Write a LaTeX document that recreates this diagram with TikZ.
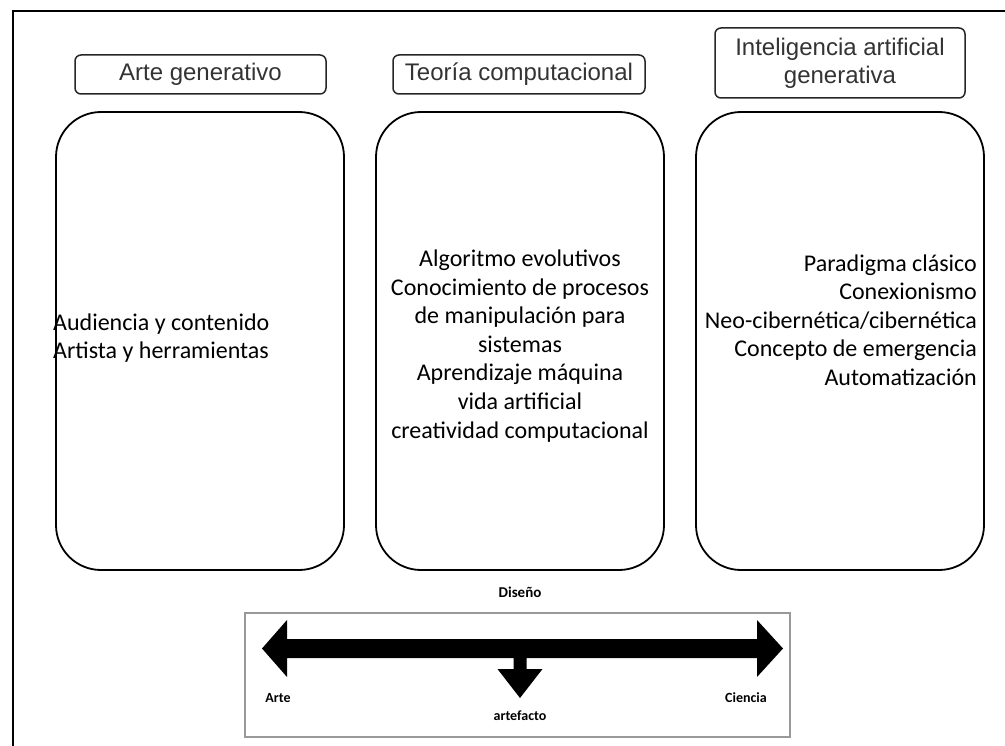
\documentclass[tikz,border=0pt]{standalone}
\usepackage{fontspec}
\setmainfont{Carlito}
\newfontfamily\headfont{Liberation Sans}
\begin{document}
\begin{tikzpicture}[x=1pt,y=-1pt,
  headbox/.style={draw=black!85, line width=1.5pt, rounded corners=6pt,
    font=\headfont\fontsize{24}{28}\selectfont, text=black!80,
    align=center, inner sep=0pt},
  colbox/.style={draw=black, line width=1.8pt, rounded corners=45pt,
    minimum width=288pt, minimum height=458pt, inner sep=0pt},
  bodytext/.style={font=\fontsize{24}{28.6}\selectfont, inner sep=0pt},
  axislabel/.style={font=\bfseries\fontsize{14}{16}\selectfont, inner sep=0pt},
]
\useasboundingbox (0,0) rectangle (1005,746);

% outer frame (left and top edges)
\draw[line width=2.5pt] (13,746) -- (13,11) -- (1005,11);

% column headings
\node[headbox, minimum width=251pt, minimum height=39pt] (h1) at (200.5,74.5) {Arte generativo};
\node[headbox, minimum width=252pt, minimum height=39pt] (h2) at (519,74.5) {Teoría computacional};
\node[headbox, minimum width=250pt, minimum height=70pt] (h3) at (840,63) {Inteligencia artificial\\generativa};

% column boxes
\node[colbox] (c1) at (200,341) {};
\node[colbox] (c2) at (520,341) {};
\node[colbox] (c3) at (840,341) {};

% column contents
\node[bodytext, anchor=west, align=left] (t1) at (53,338)
  {Audiencia y contenido\\Artista y herramientas};
\node[bodytext, align=center] (t2) at (520,346)
  {Algoritmo evolutivos\\Conocimiento de procesos\\de manipulación para\\sistemas\\Aprendizaje máquina\\vida artificial\\creatividad computacional};
\node[bodytext, anchor=east, align=right] (t3) at (977,320)
  {Paradigma clásico\\Conexionismo\\Neo-cibernética/cibernética\\Concepto de emergencia\\Automatización};

% design axis
\node[font=\bfseries\fontsize{15}{18}\selectfont, inner sep=0pt] (dis) at (520,592) {Diseño};
\node[draw=black!40, line width=2pt, minimum width=545pt, minimum height=124pt, inner sep=0pt]
  (axis) at (517.5,675) {};
\fill[black] (262,648.5) -- (287,620) -- (287,639) -- (757,639) -- (757,620)
  -- (783,648.5) -- (757,677) -- (757,658) -- (526.5,658) -- (526.5,669)
  -- (542.5,669) -- (520,698) -- (497.5,669) -- (513.5,669) -- (513.5,658)
  -- (287,658) -- (287,677) -- cycle;
\node[axislabel] (arte) at (278,698) {Arte};
\node[axislabel] (ciencia) at (746,698) {Ciencia};
\node[axislabel] (artef) at (520,716) {artefacto};
\end{tikzpicture}
\end{document}
